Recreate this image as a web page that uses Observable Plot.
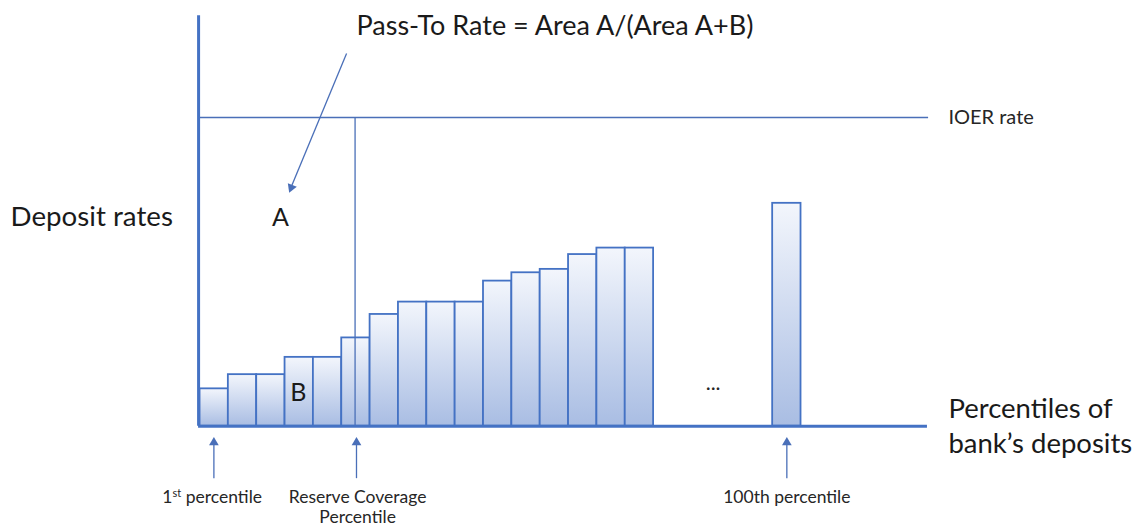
<!DOCTYPE html>
<html>
<head>
<meta charset="utf-8">
<script src="https://cdn.jsdelivr.net/npm/d3@7"></script>
<script src="https://cdn.jsdelivr.net/npm/@observablehq/plot@0.6"></script>
<style>
  html, body { margin: 0; padding: 0; background: #ffffff; }
  #chart svg { display: block; }
</style>
</head>
<body>
<div id="chart"></div>
<script>
// ---- data (x in "bar slot" units, rates relative to IOER = 100) ----
const barSlots = [0, 1, 2, 3, 4, 5, 6, 7, 8, 9, 10, 11, 12, 13, 14, 15, 20.2];
const depositRates = [12.1, 16.7, 16.7, 22.3, 22.3, 28.6, 36.2, 40.2, 40.2, 40.2, 47.0, 49.7, 50.8, 55.6, 57.7, 57.7, 72.2];
const ioerRate = 100;
const reserveCoverageSlot = 5.47;
const axisEndSlot = 25.66;
const axisTopRate = 133;

const percentileMarkers = [
  {x: 0.43, ax: 0.49, label: "1st percentile"},
  {x: 5.56, ax: 5.52, label: "Reserve Coverage\nPercentile"},
  {x: 20.7, ax: 20.7, label: "100th percentile"}
];

const bars = barSlots.map((s, i) => ({x1: s, x2: s + 1, rate: depositRates[i]}));

const BLUE = "#4472c4";
const LINE = "#4a6fb8";
const FONT = "Lato, 'Open Sans', sans-serif";

function gradientDefs() {
  const ns = "http://www.w3.org/2000/svg";
  const defs = document.createElementNS(ns, "defs");
  const g = document.createElementNS(ns, "linearGradient");
  g.setAttribute("id", "barGrad");
  g.setAttribute("x1", "0"); g.setAttribute("y1", "0");
  g.setAttribute("x2", "0"); g.setAttribute("y2", "1");
  [["0%", "#f3f6fc"], ["100%", "#a9bde3"]].forEach(([o, c]) => {
    const st = document.createElementNS(ns, "stop");
    st.setAttribute("offset", o); st.setAttribute("stop-color", c);
    g.appendChild(st);
  });
  defs.appendChild(g);
  return defs;
}

const chart = Plot.plot({
  width: 1135,
  height: 527,
  margin: 0,
  style: {fontFamily: FONT, background: "#ffffff"},
  x: {domain: [0, 1], range: [199.5, 227.85], axis: null},
  y: {domain: [0, 100], range: [425.7, 117], axis: null},
  marks: [
    gradientDefs,
    // bars
    Plot.rect(bars, {x1: "x1", x2: "x2", y1: 0, y2: "rate", fill: "url(#barGrad)", stroke: BLUE, strokeWidth: 1.8}),
    // IOER line
    Plot.ruleY([ioerRate], {x1: 0, x2: axisEndSlot + 0.04, stroke: LINE, strokeWidth: 1.3}),
    // reserve coverage vertical line
    Plot.ruleX([reserveCoverageSlot], {y1: 0, y2: ioerRate, stroke: LINE, strokeWidth: 1.3}),
    // axes
    Plot.ruleX([-0.05], {y1: 0, y2: axisTopRate, stroke: BLUE, strokeWidth: 3}),
    Plot.ruleY([0], {x1: -0.05, x2: axisEndSlot, stroke: BLUE, strokeWidth: 3}),
    // diagonal arrow from title to A
    Plot.link([{x1: 5.17, y1: 120.7, x2: 3.22, y2: 77.6}], {x1: "x1", y1: "y1", x2: "x2", y2: "y2", stroke: LINE, strokeWidth: 1.3}),
    Plot.dot([{x: 3.22, y: 77.3}], {x: "x", y: "y", symbol: "triangle", r: 3.6, fill: LINE, stroke: "none", rotate: 202}),
    // percentile arrows
    Plot.ruleX(percentileMarkers, {x: "ax", y1: -17.0, y2: -5.2, stroke: LINE, strokeWidth: 1.3}),
    Plot.dot(percentileMarkers, {x: "ax", y: -5.3, symbol: "triangle", r: 3.6, fill: LINE, stroke: "none"}),
    Plot.text(percentileMarkers, {x: "x", y: -20.1, text: "label", fontSize: 17.5, fill: "#262626", lineAnchor: "top", lineHeight: 1.15}),
    // texts
    Plot.text(["Pass-To Rate = Area A/(Area A+B)"], {x: 5.52, y: 126.6, text: d => d, textAnchor: "start", lineAnchor: "bottom", fontSize: 27, fill: "#1a1a1a"}),
    Plot.text(["IOER rate"], {x: 26.4, y: 98.0, text: d => d, textAnchor: "start", lineAnchor: "bottom", fontSize: 20, fill: "#262626"}),
    Plot.text(["Percentiles of\nbank\u2019s deposits"], {x: 26.4, y: -8.8, text: d => d, textAnchor: "start", lineAnchor: "bottom", fontSize: 27.5, lineHeight: 1.27, fill: "#1a1a1a"}),
    Plot.text(["Deposit rates"], {x: -6.68, y: 65.0, text: d => d, textAnchor: "start", lineAnchor: "bottom", fontSize: 27.7, fill: "#1a1a1a"}),
    Plot.text(["A"], {x: 2.84, y: 65.0, text: d => d, lineAnchor: "bottom", fontSize: 25, fill: "#1a1a1a"}),
    Plot.text(["B"], {x: 3.47, y: 8.3, text: d => d, lineAnchor: "bottom", fontSize: 25, fill: "#1a1a1a"}),
    Plot.text(["..."], {x: 18.1, y: 11.6, text: d => d, lineAnchor: "bottom", fontSize: 21, fill: "#262626"})
  ]
});

// superscript "st" for 1st percentile
chart.querySelectorAll("text").forEach(t => {
  if (t.textContent === "1st percentile") {
    const ns = "http://www.w3.org/2000/svg";
    while (t.firstChild) t.removeChild(t.firstChild);
    const a = document.createElementNS(ns, "tspan"); a.textContent = "1";
    const b = document.createElementNS(ns, "tspan"); b.textContent = "st";
    b.setAttribute("font-size", "11"); b.setAttribute("dy", "-6");
    const c = document.createElementNS(ns, "tspan"); c.textContent = " percentile";
    c.setAttribute("dy", "6");
    t.appendChild(a); t.appendChild(b); t.appendChild(c);
  }
});

document.getElementById("chart").appendChild(chart);
</script>
</body>
</html>
